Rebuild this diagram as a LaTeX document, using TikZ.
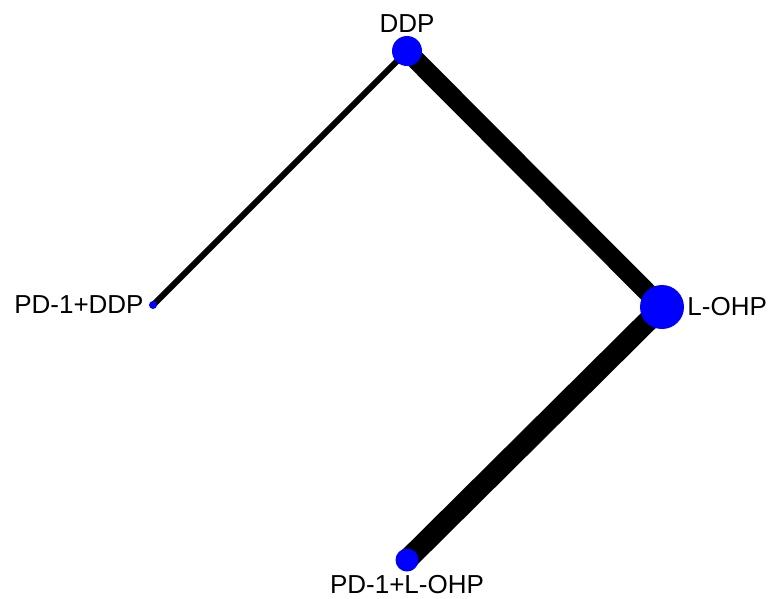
\documentclass[tikz,border=0pt]{standalone}
\usepackage{fontspec}
\setmainfont{Liberation Sans}
\usetikzlibrary{positioning, backgrounds}

\tikzset{
    farmaco/.style={circle, fill=blue, inner sep=0pt},
    etichetta/.style={font=\fontsize{26}{31}\selectfont, text=black, inner sep=0pt},
    arco/.style={line cap=butt, black}
}

\begin{document}
\begin{tikzpicture}[x=1pt, y=-1pt]

    % ==========================================
    % AREA DELLA FIGURA
    % ==========================================
    \useasboundingbox (0,0) rectangle (770,598);

    % ==========================================
    % 1. I NODI (TRATTAMENTI)
    % ==========================================
    \node[farmaco, minimum size=30pt] (ddp) at (407,51) {};
    \node[farmaco, minimum size=44pt] (lohp) at (662,307) {};
    \node[farmaco, minimum size=8pt] (pdddp) at (153,305) {};
    \node[farmaco, minimum size=23pt] (pdlohp) at (407,560) {};

    % Etichette
    \node[etichetta, above=3pt of ddp] (tddp) {DDP};
    \node[etichetta, right=3pt of lohp] (tlohp) {L-OHP};
    \node[etichetta, left=5pt of pdddp] (tpdddp) {PD-1+DDP};
    \node[etichetta, below=3pt of pdlohp] (tpdlohp) {PD-1+L-OHP};

    % ==========================================
    % 2. GLI ARCHI (spessore = numero di studi)
    % ==========================================
    \begin{scope}[on background layer]
        \draw[arco, line width=6pt] (ddp.center) -- (pdddp.center);
        \draw[arco, line width=19pt] (ddp.center) -- (lohp.center);
        \draw[arco, line width=21pt] (lohp.center) -- (pdlohp.center);
    \end{scope}

\end{tikzpicture}
\end{document}
